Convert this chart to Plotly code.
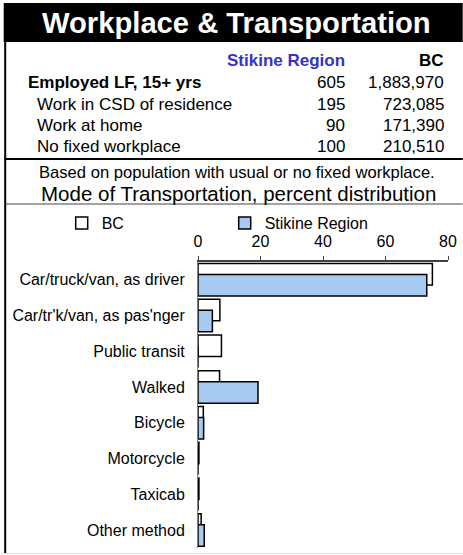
import plotly.graph_objects as go

categories = ["Car/truck/van, as driver", "Car/tr'k/van, as pas'nger", "Public transit",
              "Walked", "Bicycle", "Motorcycle", "Taxicab", "Other method"]
bc_values = [75.0, 7.0, 7.5, 6.9, 1.7, 0.3, 0.3, 1.0]
stikine_values = [73.2, 4.6, 0.0, 19.2, 1.8, 0.0, 0.0, 2.0]
x_ticks = [0, 20, 40, 60, 80]

table_rows = ["Employed LF, 15+ yrs", "Work in CSD of residence", "Work at home", "No fixed workplace"]
stikine_counts = ["605", "195", "90", "100"]
bc_counts = ["1,883,970", "723,085", "171,390", "210,510"]

W, H = 463, 555
L, R, T, B = 198.3, 448.3, 262, 548
FONT = "Liberation Sans, Arial, sans-serif"


def px(x):
    return (x - L) / (R - L)


def py(y):
    return (B - y) / (B - T)


fig = go.Figure()
fig.add_trace(go.Bar(
    y=categories, x=bc_values, orientation="h", name="BC",
    marker=dict(color="white", line=dict(color="black", width=1.5)),
    offset=-0.46, width=0.6,
))
fig.add_trace(go.Bar(
    y=categories, x=stikine_values, orientation="h", name="Stikine Region",
    marker=dict(color="#A6CAF0", line=dict(color="black", width=1.5)),
    offset=-0.15, width=0.6,
))

TS = 17
ann = []
ann.append(dict(text="<b>Workplace & Transportation</b>", x=px(236.5), y=py(23), xanchor="center",
                yanchor="middle", font=dict(size=29.2, color="white", family=FONT)))
ann.append(dict(text="<b>Stikine Region</b>", x=px(347), y=py(60), xanchor="right", yanchor="middle",
                font=dict(size=TS, color="#3333CC", family=FONT)))
ann.append(dict(text="<b>BC</b>", x=px(446), y=py(60), xanchor="right", yanchor="middle",
                font=dict(size=TS, color="black", family=FONT)))
row_y = [82, 104.5, 125.5, 146.5]
for i, (lab, s, b) in enumerate(zip(table_rows, stikine_counts, bc_counts)):
    if i == 0:
        ann.append(dict(text="<b>" + lab + "</b>", x=px(26), y=py(row_y[i]), xanchor="left",
                        yanchor="middle", font=dict(size=TS, color="black", family=FONT)))
    else:
        ann.append(dict(text=lab, x=px(35), y=py(row_y[i]), xanchor="left",
                        yanchor="middle", font=dict(size=TS, color="black", family=FONT)))
    ann.append(dict(text=s, x=px(347), y=py(row_y[i]), xanchor="right", yanchor="middle",
                    font=dict(size=TS, color="black", family=FONT)))
    ann.append(dict(text=b, x=px(446), y=py(row_y[i]), xanchor="right", yanchor="middle",
                    font=dict(size=TS, color="black", family=FONT)))
ann.append(dict(text="Based on population with usual or no fixed workplace.", x=px(237.5), y=py(172.5),
                xanchor="center", yanchor="middle", font=dict(size=16.6, color="black", family=FONT)))
ann.append(dict(text="Mode of Transportation, percent distribution", x=px(238.5), y=py(193),
                xanchor="center", yanchor="middle", font=dict(size=20.5, color="black", family=FONT)))
for a in ann:
    a.update(xref="paper", yref="paper", showarrow=False)

shapes = [
    dict(type="rect", x0=px(4), x1=px(463), y0=py(3), y1=py(42), fillcolor="black", line=dict(width=0)),
    dict(type="line", x0=px(5.5), x1=px(5.5), y0=py(42), y1=py(553), line=dict(color="black", width=2)),
    dict(type="line", x0=px(5), x1=px(463), y0=py(159), y1=py(159), line=dict(color="black", width=2)),
    dict(type="line", x0=px(5), x1=px(463), y0=py(204), y1=py(204), line=dict(color="#444444", width=1)),
    dict(type="line", x0=px(5), x1=px(463), y0=py(553.5), y1=py(553.5), line=dict(color="#E0E0E0", width=1)),
]
for s in shapes:
    s.update(xref="paper", yref="paper", layer="below")

fig.update_layout(
    width=W, height=H,
    margin=dict(l=L, r=W - R, t=T, b=H - B, pad=0),
    paper_bgcolor="white", plot_bgcolor="white",
    barmode="overlay",
    font=dict(family=FONT, size=16, color="black"),
    annotations=ann, shapes=shapes,
    showlegend=True,
    legend=dict(orientation="h", x=px(62), y=py(206), xanchor="left", yanchor="top",
                xref="paper", yref="paper", entrywidth=118, entrywidthmode="pixels",
                font=dict(size=16, family=FONT), bgcolor="rgba(0,0,0,0)",
                itemwidth=30, traceorder="normal"),
    xaxis=dict(range=[0, 80], tickvals=x_ticks, side="top", showgrid=False, zeroline=False,
               showline=True, linecolor="#404040", linewidth=1.5, ticks="outside", ticklen=4,
               tickcolor="#404040", tickfont=dict(size=16, family=FONT), ticklabelstandoff=3,
               fixedrange=True),
    yaxis=dict(autorange="reversed", showgrid=False, zeroline=False, showline=True,
               linecolor="#808080", linewidth=1, ticks="", ticklabelstandoff=9,
               tickfont=dict(size=16, family=FONT), fixedrange=True),
)

fig.write_html("out.html", config={"displayModeBar": False},
               post_script="document.body.style.margin='0px';")
